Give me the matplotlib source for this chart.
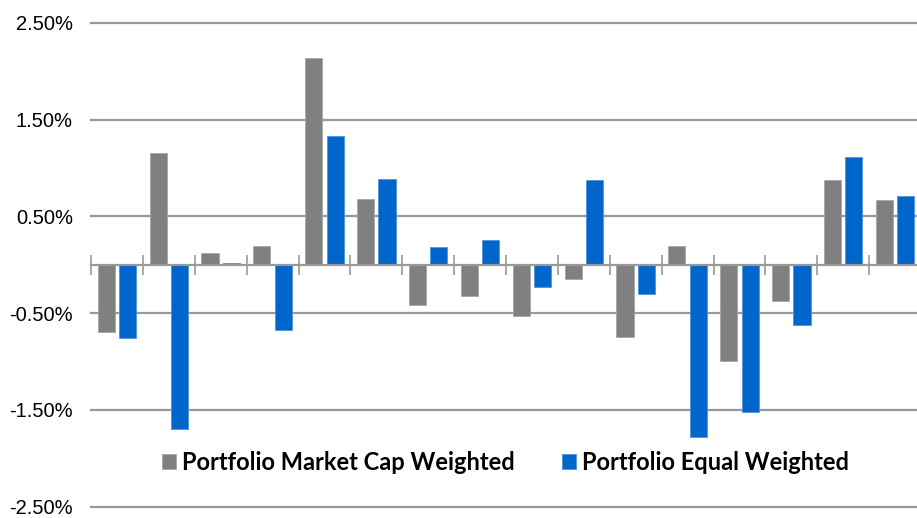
import numpy as np
import matplotlib.pyplot as plt
from matplotlib.ticker import FuncFormatter

# monthly returns (%)
cap_weighted = [-0.70, 1.155, 0.12, 0.19, 2.14, 0.68, -0.42, -0.32,
                -0.535, -0.147, -0.745, 0.19, -0.99, -0.377, 0.88, 0.67]
equal_weighted = [-0.76, -1.70, 0.015, -0.67, 1.33, 0.89, 0.18, 0.26,
                  -0.235, 0.88, -0.30, -1.775, -1.52, -0.62, 1.11, 0.71]
series_names = ["Portfolio Market Cap Weighted", "Portfolio Equal Weighted"]
y_ticks = [-2.5, -1.5, -0.5, 0.5, 1.5, 2.5]

GRAY = "#808080"
BLUE = "#0066CC"

fig = plt.figure(figsize=(9.17, 5.18), dpi=100)
ax = fig.add_axes([91 / 917, 1 - 506.7 / 518, 830 / 917, 484 / 518])

x = np.arange(len(cap_weighted))
w = 0.33
ax.bar(x - 0.205, cap_weighted, w, color=GRAY, edgecolor="#a6a6a6", linewidth=0.6,
       label=series_names[0], zorder=3)
ax.bar(x + 0.205, equal_weighted, w, color=BLUE, edgecolor="#4d94db", linewidth=0.6,
       label=series_names[1], zorder=3)

ax.set_xlim(-0.5, len(x) - 0.5)
ax.set_ylim(-2.5, 2.5)
ax.set_yticks(y_ticks)
ax.yaxis.set_major_formatter(FuncFormatter(lambda v, p: f"{v:.2f}%"))
ax.tick_params(axis="y", length=0, pad=13, labelsize=14.5)
for lab in ax.get_yticklabels():
    lab.set_fontfamily("Liberation Sans")

ax.grid(axis="y", color="#999999", linewidth=1.6, zorder=0)
for g in ax.get_ygridlines():
    g.set_clip_on(False)

# category axis sits on zero
for s in ["top", "right", "left"]:
    ax.spines[s].set_visible(False)
ax.spines["bottom"].set_position(("data", 0))
ax.spines["bottom"].set_color("#999999")
ax.spines["bottom"].set_linewidth(1.6)
ax.spines["bottom"].set_zorder(4)
ax.set_xticks(np.arange(-0.5, len(x), 1.0))
ax.set_xticklabels([])
ax.tick_params(axis="x", direction="inout", length=14, width=1.2, color="#999999")

leg = fig.legend(loc="center", bbox_to_anchor=(505.5 / 917, 1 - 462 / 518), ncol=2,
                 frameon=False, handlelength=0.6, handleheight=0.6, handletextpad=0.25,
                 columnspacing=2.0, prop={"family": "Lato", "weight": "bold", "size": 17})

fig.savefig("out.png", dpi=100)
